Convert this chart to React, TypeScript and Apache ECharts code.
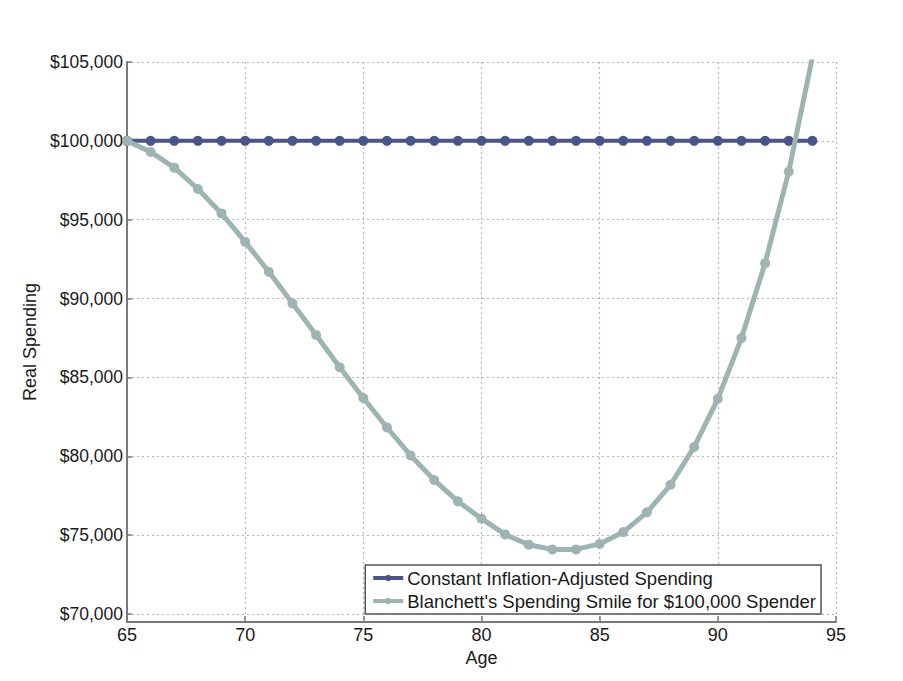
import React, { useEffect, useRef } from "react";
import * as echarts from "echarts";

const ages = [65, 66, 67, 68, 69, 70, 71, 72, 73, 74, 75, 76, 77, 78, 79, 80, 81, 82, 83, 84, 85, 86, 87, 88, 89, 90, 91, 92, 93, 94];
const constantSpending = [100000, 100000, 100000, 100000, 100000, 100000, 100000, 100000, 100000, 100000, 100000, 100000, 100000, 100000, 100000, 100000, 100000, 100000, 100000, 100000, 100000, 100000, 100000, 100000, 100000, 100000, 100000, 100000, 100000, 100000];
const smileSpending = [100000, 99300, 98300, 96950, 95400, 93600, 91700, 89700, 87700, 85650, 83700, 81830, 80060, 78500, 77150, 76050, 75050, 74400, 74100, 74100, 74450, 75200, 76450, 78200, 80600, 83650, 87500, 92250, 98050, 105300];
const yTickValues = [70000, 75000, 80000, 85000, 90000, 95000, 100000, 105000];
const seriesNames = ["Constant Inflation-Adjusted Spending", "Blanchett's Spending Smile for $100,000 Spender"];

const FONT = "'Liberation Sans', Arial, Helvetica, sans-serif";

export default function App() {
  const ref = useRef<HTMLDivElement>(null);
  useEffect(() => {
    if (!ref.current) return;
    const chart = echarts.init(ref.current, undefined, { renderer: "svg" });
    const fmt = (v: number) => "$" + v.toLocaleString("en-US");
    chart.setOption({
      animation: false,
      backgroundColor: "#ffffff",
      textStyle: { fontFamily: FONT },
      grid: { left: 127, right: 67, top: 62, bottom: 59, containLabel: false },
      legend: {
        orient: "vertical",
        right: 82,
        bottom: 67,
        backgroundColor: "#ffffff",
        borderColor: "#555555",
        borderWidth: 1.5,
        borderRadius: 0,
        padding: [2, 5, 2, 6],
        itemGap: 1,
        itemWidth: 30,
        itemHeight: 8,
        lineStyle: { width: 4 },
        textStyle: { fontFamily: FONT, fontSize: 18.5, lineHeight: 22, color: "#1a1a1a", padding: [0, 0, 0, -1] },
        data: seriesNames,
      },
      xAxis: {
        type: "value",
        min: 65,
        max: 95,
        interval: 5,
        name: "Age",
        nameLocation: "middle",
        nameGap: 22,
        nameTextStyle: { fontFamily: FONT, fontSize: 18, color: "#1a1a1a" },
        axisLine: { show: true, lineStyle: { color: "#7a7a7a", width: 2 } },
        axisTick: { show: true, inside: true, length: 6, lineStyle: { color: "#7a7a7a", width: 1.5 } },
        axisLabel: { fontFamily: FONT, fontSize: 18, color: "#1a1a1a", margin: 4 },
        splitLine: { show: true, lineStyle: { color: "#b4b4bc", type: [2, 3], width: 1.2 } },
      },
      yAxis: {
        type: "value",
        min: 69500,
        max: 105000,
        name: "Real Spending",
        nameLocation: "middle",
        nameGap: 81,
        nameRotate: 90,
        nameTextStyle: { fontFamily: FONT, fontSize: 18, color: "#1a1a1a" },
        axisLine: { show: true, lineStyle: { color: "#7a7a7a", width: 2 } },
        axisTick: { show: true, inside: true, length: 5, customValues: yTickValues, lineStyle: { color: "#7a7a7a", width: 1.5 } },
        axisLabel: { fontFamily: FONT, fontSize: 17.5, color: "#1a1a1a", margin: 4, customValues: yTickValues, formatter: fmt },
        splitLine: { show: true, lineStyle: { color: "#b4b4bc", type: [2, 3], width: 1.2 } },
      },
      series: [
        {
          name: seriesNames[0],
          type: "line",
          data: ages.map((a, i) => [a, constantSpending[i]]),
          symbol: "circle",
          symbolSize: 10,
          lineStyle: { color: "#48548a", width: 4 },
          itemStyle: { color: "#48548a" },
          clip: true,
          z: 2,
        },
        {
          name: seriesNames[1],
          type: "line",
          data: ages.map((a, i) => [a, smileSpending[i]]),
          symbol: "circle",
          symbolSize: 10,
          lineStyle: { color: "#9db4b3", width: 5 },
          itemStyle: { color: "#9db4b3" },
          clip: true,
          z: 3,
        },
      ],
    });
    return () => chart.dispose();
  }, []);
  return <div ref={ref} style={{ width: 903, height: 681, position: "absolute", left: 0, top: 0 }} />;
}
